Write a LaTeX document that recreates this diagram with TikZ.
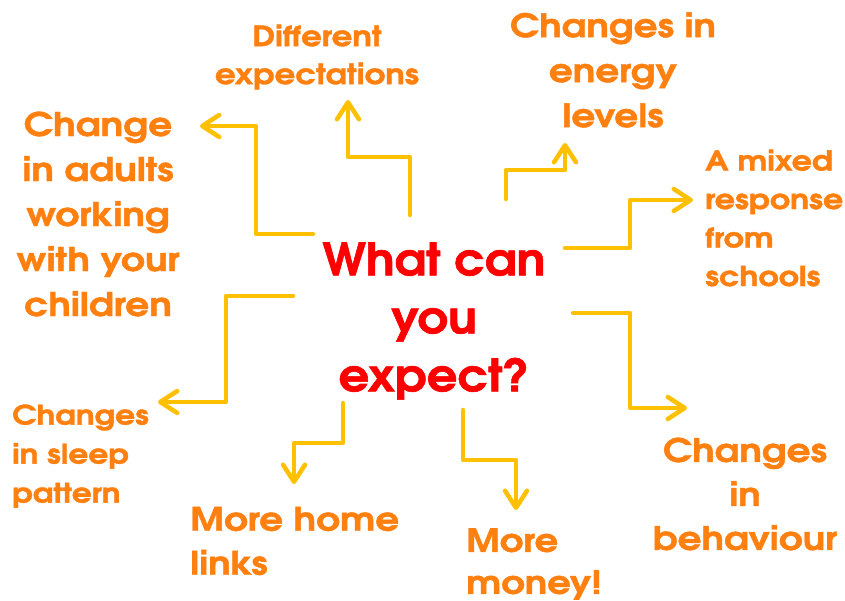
\documentclass[tikz,border=0pt]{standalone}
\usepackage{fontspec}
\setmainfont{TeX Gyre Adventor}[FakeStretch=1.16, BoldFeatures={FakeBold=1.3}]
\newfontfamily\centrefont{TeX Gyre Adventor}[FakeStretch=1.08, BoldFeatures={FakeBold=1.4}]
\usetikzlibrary{arrows.meta}
\definecolor{amber}{RGB}{255,192,0}
\definecolor{orng}{RGB}{255,127,15}
\definecolor{rd}{RGB}{255,0,0}
\tikzset{
  conn/.style={draw=amber, line width=4.5pt, line join=round, line cap=round,
    -{Straight Barb[length=17pt,width=22pt,round]}},
  lbl/.style={text=orng, font=\bfseries, inner sep=0pt, align=center},
}
\begin{document}
\begin{tikzpicture}[x=1pt,y=-1pt]
\useasboundingbox[fill=white] (0,0) rectangle (845,601);
% central
\node[text=rd, font=\centrefont\bfseries\fontsize{44.5}{58}\selectfont, align=center, inner sep=0pt] (c) at (434,321) {What can\\you\\expect?};
% labels
\node[lbl, font=\bfseries\fontsize{28}{38}\selectfont] (t1) at (317,57) {Different\\expectations};
\node[lbl, font=\bfseries\fontsize{32.3}{45}\selectfont] (t2) at (613,70) {Changes in\\energy\\levels};
\node[lbl, font=\bfseries\fontsize{32.5}{45}\selectfont] (t3) at (98,214) {Change\\in adults\\working\\with your\\children};
\node[lbl, align=left, anchor=west, font=\bfseries\fontsize{27.3}{38.5}\selectfont] (t4) at (705,218) {A mixed\\response\\from\\schools};
\node[lbl, align=left, anchor=west, font=\bfseries\fontsize{26.9}{39}\selectfont] (t5) at (12,456) {Changes\\in sleep\\pattern};
\node[lbl, align=left, anchor=west, font=\bfseries\fontsize{32.3}{44}\selectfont] (t6) at (190,541) {More home\\links};
\node[lbl, align=left, anchor=west, font=\bfseries\fontsize{32}{42}\selectfont] (t7) at (466,564) {More\\money!};
\node[lbl, font=\bfseries\fontsize{32.3}{44}\selectfont] (t8) at (745,494) {Changes\\in\\behaviour};
% connector coordinates
\coordinate (s1) at (313,234); \coordinate (e1) at (200,126);
\coordinate (s2) at (410,215); \coordinate (e2) at (348,100);
\coordinate (s3) at (506,199); \coordinate (e3) at (565,143);
\coordinate (s4) at (565,248); \coordinate (e4) at (693,200);
\coordinate (s5) at (293,296); \coordinate (e5) at (158,402);
\coordinate (s6) at (343,403); \coordinate (e6) at (294,484);
\coordinate (s7) at (463,410); \coordinate (e7) at (516,510);
\coordinate (s8) at (573,313); \coordinate (e8) at (687,408);
% connectors
\draw[conn] (s1) -- (256,234) -- (256,126) -- (e1);
\draw[conn] (s2) -- (410,157) -- (348,157) -- (e2);
\draw[conn] (s3) -- (506,170) -- (565,170) -- (e3);
\draw[conn] (s4) -- (630,248) -- (630,200) -- (e4);
\draw[conn] (s5) -- (226,296) -- (226,402) -- (e5);
\draw[conn] (s6) -- (343,443) -- (294,443) -- (e6);
\draw[conn] (s7) -- (463,460) -- (516,460) -- (e7);
\draw[conn] (s8) -- (630,313) -- (630,408) -- (e8);
\end{tikzpicture}
\end{document}
